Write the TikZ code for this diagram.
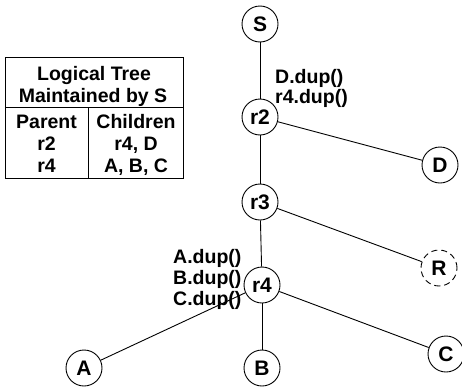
\documentclass[tikz,border=0pt]{standalone}
\usepackage{fontspec}
\setmainfont{Liberation Sans}
\begin{document}
\begin{tikzpicture}[x=1pt,y=-1pt,
  every node/.style={font=\bfseries\fontsize{19.5}{21.5}\selectfont},
  peer/.style={circle,draw,line width=0.9pt,minimum size=36pt,inner sep=0pt,
    font=\bfseries\fontsize{21}{22}\selectfont},
  missing/.style={peer,dash pattern=on 6pt off 4pt},
  link/.style={line width=0.9pt},
  txt/.style={inner sep=0pt,anchor=base west},
  cell/.style={inner sep=0pt,anchor=base}]
\useasboundingbox (0,0) rectangle (462,388);

% table of the logical tree
\draw[line width=0.9pt] (5,57) rectangle (183,178);
\draw[line width=0.9pt] (5,107) -- (183,107);
\draw[line width=0.9pt] (88,107) -- (88,178);
\node[cell] (t1) at (94,80) {Logical Tree};
\node[cell] (t2) at (93,102) {Maintained by S};
\node[cell] (h1) at (46.5,128) {Parent};
\node[cell] (h2) at (136,128) {Children};
\node[cell] (p1) at (46.5,150) {r2};
\node[cell] (c1) at (136,150) {r4, D};
\node[cell] (p2) at (46.5,172) {r4};
\node[cell] (c2) at (136,172) {A, B, C};

% tree nodes
\node[peer] (S)  at (260,24)  {S};
\node[peer] (r2) at (260,117) {r2};
\node[peer] (D)  at (440,165) {D};
\node[peer] (r3) at (260,202) {r3};
\node[missing] (R) at (439,268) {R};
\node[peer] (r4) at (262,285) {r4};
\node[peer] (A)  at (84,368)  {A};
\node[peer] (B)  at (262,368) {B};
\node[peer] (C)  at (446,354) {C};

% edges
\draw[link] (S) -- (r2);
\draw[link] (r2) -- (D);
\draw[link] (r2) -- (r3);
\draw[link] (r3) -- (R);
\draw[link] (r3) -- (r4);
\draw[link] (r4) -- (A);
\draw[link] (r4) -- (B);
\draw[link] (r4) -- (C);

% messages
\node[txt] (m1) at (275,83)  {D.dup()};
\node[txt] (m2) at (275,103) {r4.dup()};
\node[txt] (m3) at (173,263) {A.dup()};
\node[txt] (m4) at (173,284) {B.dup()};
\node[txt] (m5) at (173,305) {C.dup()};
\end{tikzpicture}
\end{document}
